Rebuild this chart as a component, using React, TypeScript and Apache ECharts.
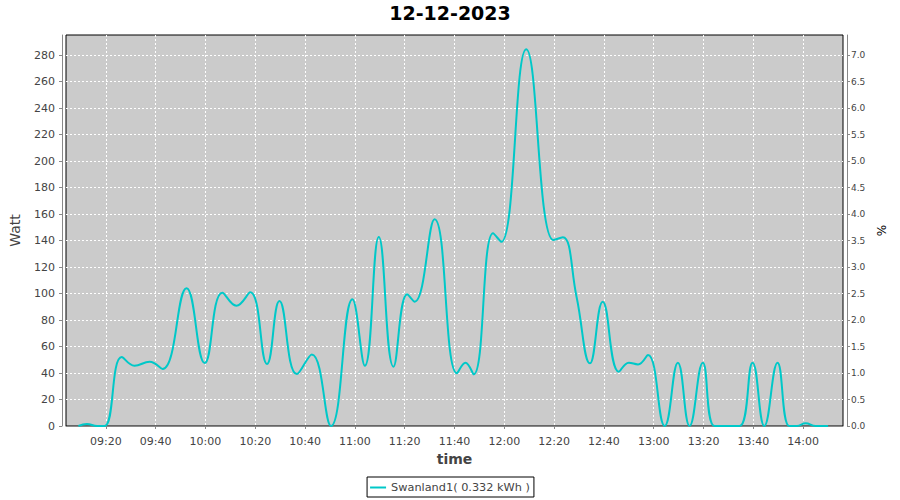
import React, { useEffect, useRef } from "react";
import * as echarts from "echarts";

const title = "12-12-2023";
const seriesName = "Swanland1( 0.332 kWh )";

// sample times and power values (Watt)
const times = [
  "09:09:00", "09:12:24", "09:16:30", "09:19:30", "09:26:24", "09:31:30", "09:37:36", "09:42:48",
  "09:52:24", "09:59:42", "10:06:48", "10:12:24", "10:18:00", "10:24:42", "10:29:42", "10:36:42",
  "10:42:42", "10:50:24", "10:59:00", "11:04:00", "11:09:36", "11:15:30", "11:21:00", "11:24:00",
  "11:32:00", "11:41:00", "11:44:24", "11:47:42", "11:55:30", "11:58:48", "12:08:48",
  "12:19:42", "12:23:30", "12:29:00", "12:34:24", "12:39:30", "12:46:00", "12:50:00", "12:53:42",
  "12:57:42", "13:04:24", "13:09:42", "13:14:24", "13:19:42", "13:24:24", "13:29:30", "13:34:30",
  "13:39:42", "13:44:24", "13:49:42", "13:54:24", "13:57:30", "14:01:00", "14:05:00", "14:10:00",
];
const watts = [
  0, 1.5, 0, 0, 52, 45.5, 48.5, 43,
  104, 47.5, 100.6, 90.8, 100.9, 46.8, 94.3, 39.2,
  54, 0, 95.6, 45.5, 142.6, 44.8, 99.4, 93.8,
  156, 39.8, 47.8, 39, 145.4, 139, 284.3,
  140.4, 142.4, 97.6, 47.3, 93.8, 41, 47.8, 46.5,
  53.6, 0, 47.8, 0, 47.8, 0, 0, 0,
  47.8, 0, 47.8, 0, 0, 2, 0, 0,
];

const xTickLabels = ["09:20", "09:40", "10:00", "10:20", "10:40", "11:00", "11:20", "11:40", "12:00", "12:20", "12:40", "13:00", "13:20", "13:40", "14:00"];
const leftTicks = [0, 20, 40, 60, 80, 100, 120, 140, 160, 180, 200, 220, 240, 260, 280];
const rightTicks = [0, 0.5, 1, 1.5, 2, 2.5, 3, 3.5, 4, 4.5, 5, 5.5, 6, 6.5, 7];

const xStart = "09:04";
const xEnd = "14:16";
const leftMax = 295.1;
const rightMax = 7.3775;

const toMin = (s: string) => {
  const p = s.split(":").map(Number);
  return p[0] * 60 + p[1] + (p[2] || 0) / 60;
};
const fmt = (m: number) => {
  const h = Math.floor(m / 60);
  const mm = Math.round(m - h * 60);
  return String(h).padStart(2, "0") + ":" + String(mm).padStart(2, "0");
};

const FONT = "DejaVu Sans";

export default function App() {
  const ref = useRef<HTMLDivElement>(null);
  useEffect(() => {
    if (!ref.current) return;
    const chart = echarts.init(ref.current, undefined, { renderer: "svg" });
    const data = times.map((t, i) => [toMin(t), watts[i]]);
    chart.setOption({
      animation: false,
      backgroundColor: "#ffffff",
      textStyle: { fontFamily: FONT },
      title: {
        text: title,
        left: "center",
        top: 3,
        padding: 0,
        textStyle: { fontFamily: FONT, fontSize: 19, fontWeight: "bold", color: "#000" },
      },
      legend: {
        left: "center",
        top: 477,
        data: [{ name: seriesName, icon: "rect" }],
        itemWidth: 16,
        itemHeight: 2,
        itemGap: 4,
        padding: [5, 4, 4, 3],
        borderColor: "#000",
        borderWidth: 1,
        textStyle: { fontFamily: FONT, fontSize: 11.3, color: "#444" },
      },
      grid: {
        left: 64,
        right: 57,
        top: 35,
        bottom: 74,
        show: true,
        backgroundColor: "#cbcbcb",
        borderColor: "#000",
        borderWidth: 1,
      },
      xAxis: {
        type: "value",
        min: toMin(xStart),
        max: toMin(xEnd),
        offset: 4,
        name: "time",
        nameLocation: "middle",
        nameGap: 22,
        nameTextStyle: { fontFamily: FONT, fontSize: 14, fontWeight: "bold", color: "#444" },
        axisLine: { show: true, lineStyle: { color: "#888", width: 1 } },
        axisTick: { show: true, length: 3, lineStyle: { color: "#888" }, customValues: xTickLabels.map(toMin) },
        axisLabel: {
          customValues: xTickLabels.map(toMin),
          formatter: (v: number) => fmt(v),
          fontFamily: FONT,
          fontSize: 11,
          color: "#444",
          margin: 6,
        },
        splitLine: { show: true, lineStyle: { color: "#fff", type: [2, 2], width: 1 } },
      },
      yAxis: [
        {
          type: "value",
          min: 0,
          max: leftMax,
          position: "left",
          offset: 4,
          name: "Watt",
          nameLocation: "middle",
          nameRotate: 90,
          nameGap: 40,
          nameTextStyle: { fontFamily: FONT, fontSize: 14, color: "#444" },
          axisLine: { show: true, lineStyle: { color: "#888", width: 1 } },
          axisTick: { show: true, length: 3, lineStyle: { color: "#888" }, customValues: leftTicks },
          axisLabel: { customValues: leftTicks, fontFamily: FONT, fontSize: 11, color: "#444", margin: 7 },
          splitLine: { show: true, lineStyle: { color: "#fff", type: [2, 2], width: 1 } },
        },
        {
          type: "value",
          min: 0,
          max: rightMax,
          position: "right",
          offset: 4,
          name: "%",
          nameLocation: "middle",
          nameRotate: 90,
          nameGap: 28,
          nameTextStyle: { fontFamily: FONT, fontSize: 12, color: "#000" },
          axisLine: { show: true, lineStyle: { color: "#888", width: 1 } },
          axisTick: { show: true, length: 3, lineStyle: { color: "#888" }, customValues: rightTicks },
          axisLabel: {
            customValues: rightTicks,
            formatter: (v: number) => v.toFixed(1),
            fontFamily: FONT,
            fontSize: 9,
            color: "#444",
            margin: 4,
          },
          splitLine: { show: false },
        },
      ],
      series: [
        {
          name: seriesName,
          type: "line",
          data,
          yAxisIndex: 0,
          smooth: 0.45,
          showSymbol: false,
          clip: true,
          lineStyle: { color: "#00c8c8", width: 2 },
          itemStyle: { color: "#00c8c8" },
        },
      ],
    });
    return () => chart.dispose();
  }, []);
  return (
    <div
      ref={ref}
      style={{ position: "fixed", left: 0, top: 0, width: 900, height: 500, background: "#fff" }}
    />
  );
}
